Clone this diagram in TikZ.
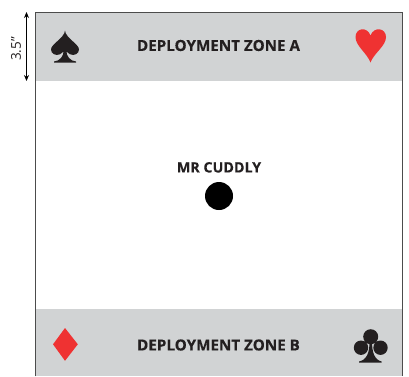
\documentclass[tikz,border=0pt]{standalone}
\usepackage{fontspec}
\setmainfont[BoldFeatures={FakeBold=0.25}]{Open Sans}
\usetikzlibrary{
    arrows.meta,
    positioning
}
\definecolor{zonegray}{RGB}{209,211,212}
\definecolor{suitred}{RGB}{239,50,50}
\definecolor{inkgray}{RGB}{35,31,32}
\tikzstyle{zone} = [
    rectangle,
    draw=none,
    fill=zonegray,
    inner sep=0pt,
    minimum width=367pt,
    anchor=north west
]
\tikzstyle{zonelabel} = [
    font=\fontsize{15.2}{17}\selectfont\bfseries,
    text=inkgray,
    inner sep=0pt
]
\tikzstyle{edge} = [
    line width=1pt,
    draw=black!70
]
\tikzstyle{dim} = [
    {Stealth[length=6pt,width=5pt]}-{Stealth[length=6pt,width=5pt]},
    line width=1pt,
    black
]
\begin{document}
\begin{tikzpicture}[x=1pt, y=-1pt]
    \useasboundingbox (0,0) rectangle (409,376);
    % zones
    \node[zone, minimum height=69pt] (zonea) at (35.5,12) {};
    \node[zone, minimum height=67pt] (zoneb) at (35.5,309) {};
    % outline, open at the bottom
    \draw[edge] (zoneb.south west) -- (zonea.north west) -- (zonea.north east) -- (zoneb.south east);
    % labels
    \node[zonelabel] (labela) at (218.5,45.5) {DEPLOYMENT ZONE A};
    \node[zonelabel] (labelb) at (218.5,345) {DEPLOYMENT ZONE B};
    \node[circle, fill=black, minimum size=28pt, inner sep=0pt] (cuddly) at (219,196) {};
    \node[zonelabel, above=9pt of cuddly, font=\fontsize{14.3}{16}\selectfont\bfseries] (cuddlylabel) {MR CUDDLY};
    % suits
    \fill[inkgray] (65,30.5) .. controls (64.5,38) and (51,44) .. (51,49.5)
        .. controls (51,54) and (56,56) .. (60,54.3)
        .. controls (61.5,53.6) and (62.5,52.5) .. (63.5,51.5)
        .. controls (63.5,56) and (60,61) .. (54,61.5) -- (54,62.5) -- (76,62.5) -- (76,61.5)
        .. controls (70,61) and (66.5,56) .. (66.5,51.5)
        .. controls (67.5,52.5) and (68.5,53.6) .. (70,54.3)
        .. controls (74,56) and (79,54) .. (79,49.5)
        .. controls (79,44) and (65.5,38) .. (65,30.5) -- cycle;
    \fill[suitred] (370.5,62.5) .. controls (367,53) and (355.5,46) .. (355.5,37)
        .. controls (355.5,28) and (367,26) .. (370.5,35.5)
        .. controls (374,26) and (386,28) .. (386,37)
        .. controls (386,46) and (374,53) .. (370.5,62.5) -- cycle;
    \fill[suitred] (65,328) -- (77.8,344.3) -- (65,360.8) -- (53,344.3) -- cycle;
    \fill[inkgray] (370.7,336.7) circle (7.5) (361,347.7) circle (7.2) (380.5,347.7) circle (7.2);
    \fill[inkgray] (369.5,342) .. controls (369.5,352) and (367,360) .. (359,361.5) -- (359,362.7) -- (381.7,362.7) -- (381.7,361.5)
        .. controls (374.5,360) and (372,352) .. (372,342) -- cycle;
    % dimension
    \coordinate (dimtop) at (26.5,12);
    \coordinate (dimbot) at (26.5,81);
    \draw[dim] (dimtop) -- (dimbot);
    \node[rotate=90, font=\fontsize{13.5}{15}\selectfont, text=inkgray, inner sep=0pt] (dimlabel) at (16,49) {3.5"};
\end{tikzpicture}
\end{document}
